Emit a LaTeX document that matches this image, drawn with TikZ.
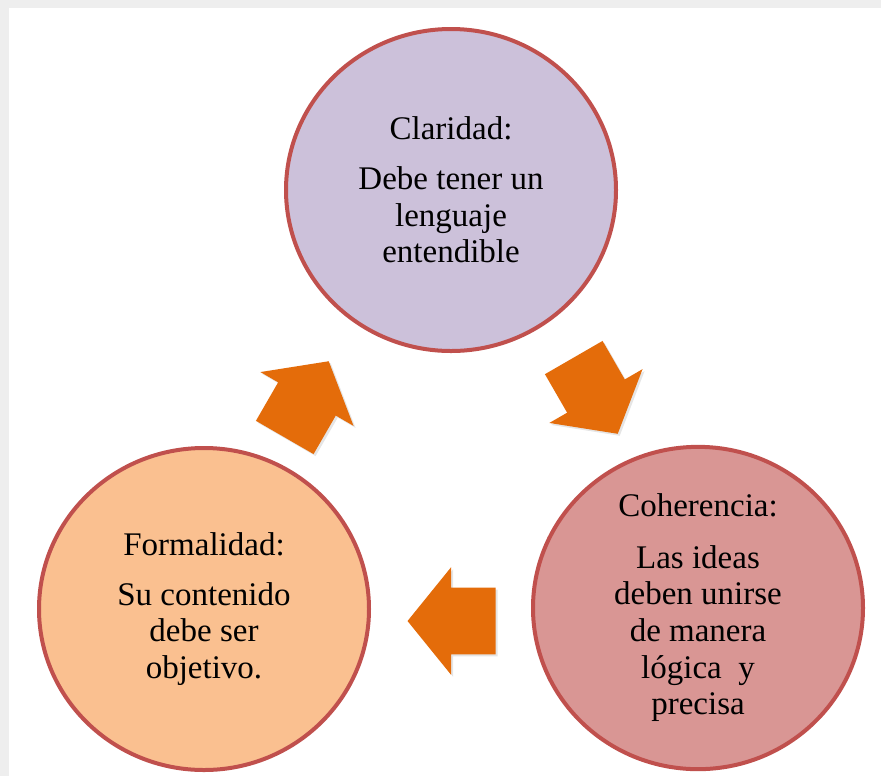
\documentclass[tikz,border=0pt]{standalone}
\usepackage{fontspec}
\setmainfont{Liberation Serif}
\usetikzlibrary{shapes.geometric}
\usetikzlibrary{shapes.arrows}
\usetikzlibrary{shadows}

\definecolor{borde}{HTML}{C0504D}
\definecolor{lila}{HTML}{CCC1DA}
\definecolor{rosa}{HTML}{D99694}
\definecolor{durazno}{HTML}{FAC090}
\definecolor{naranja}{HTML}{E46C0A}
\definecolor{fondo}{HTML}{EEEEEE}

\begin{document}
\begin{tikzpicture}[
    x=0.75pt,
    y=-0.75pt,
    circulo/.style={
      ellipse,
      draw=borde,
      line width=3pt,
      minimum width=247.5pt,
      minimum height=241.5pt,
      inner sep=0pt,
      align=center,
      font=\fontsize{24.75pt}{27.5pt}\selectfont
    },
    flecha/.style={
      single arrow,
      fill=naranja,
      draw=none,
      minimum height=66pt,
      minimum width=80pt,
      single arrow head extend=15.4pt,
      single arrow tip angle=102,
      single arrow head indent=0pt,
      inner xsep=0pt,
      inner ysep=24.75pt,
      drop shadow={opacity=0.2, shadow xshift=1.5pt, shadow yshift=-1.5pt}
    },
    ]

    \fill[fondo] (0,0) rectangle (881,776);
    \fill[white] (9,8) rectangle (881,776);

    \node[circulo, fill=lila] (claridad) at (451,190)
      {Claridad:\\[10pt]Debe tener un\\lenguaje\\entendible};
    \node[circulo, fill=rosa] (coherencia) at (698,608)
      {Coherencia:\\[11pt]Las ideas\\deben unirse\\de manera\\lógica~ y\\precisa};
    \node[circulo, fill=durazno] (formalidad) at (204,609)
      {Formalidad:\\[10pt]Su contenido\\debe ser\\objetivo.};

    \foreach \x/\y/\r/\n in {589/384/-60/f1,465/621/180/f2,300/411/60/f3}{
      \node[flecha, rotate=\r] (\n) at (\x,\y) {};
    }
  \end{tikzpicture}
\end{document}
